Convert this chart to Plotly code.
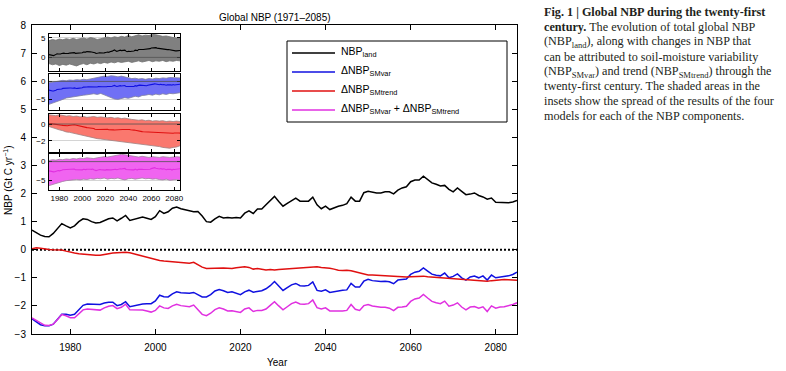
import plotly.graph_objects as go

# ---------------- data ----------------
years = list(range(1971, 2086))

nbp_land = [0.70, 0.60, 0.52, 0.47, 0.46, 0.58, 0.75, 0.93, 0.85, 0.78,
            0.85, 1.00, 1.10, 1.08, 1.00, 0.95, 0.97, 1.03, 1.10, 1.13,
            1.03, 1.12, 1.22, 1.04, 1.08, 1.13, 1.16, 1.12, 1.08, 1.18,
            1.39, 1.29, 1.35, 1.48, 1.52, 1.46, 1.42, 1.37, 1.35, 1.36,
            1.20, 1.00, 0.98, 1.10, 1.19, 1.13, 1.15, 1.13, 1.15, 1.13,
            1.30, 1.38, 1.29, 1.45, 1.45, 1.60, 1.75, 1.90, 1.72, 1.55,
            1.65, 1.75, 1.84, 1.73, 1.73, 1.73, 1.87, 1.60, 1.46, 1.55,
            1.43, 1.50, 1.55, 1.58, 1.64, 1.87, 1.73, 1.73, 2.03, 2.08,
            2.04, 2.02, 2.02, 2.06, 2.06, 1.99, 2.12, 2.20, 2.24, 2.42,
            2.48, 2.48, 2.62, 2.50, 2.38, 2.33, 2.27, 2.29, 2.15, 2.06,
            2.20, 2.08, 1.96, 1.98, 2.02, 1.93, 1.88, 1.80, 1.84, 1.69,
            1.68, 1.67, 1.67, 1.70, 1.75]

d_smvar = [-2.46, -2.58, -2.67, -2.71, -2.71, -2.65, -2.48, -2.30, -2.30, -2.33,
           -2.30, -2.15, -1.98, -1.93, -1.93, -1.93, -1.95, -1.90, -1.87, -1.87,
           -1.99, -1.95, -1.85, -2.03, -1.99, -1.96, -1.93, -1.92, -1.92, -1.82,
           -1.62, -1.67, -1.68, -1.57, -1.50, -1.53, -1.54, -1.55, -1.52, -1.60,
           -1.68, -1.68, -1.60, -1.47, -1.42, -1.46, -1.52, -1.50, -1.55, -1.60,
           -1.50, -1.44, -1.51, -1.49, -1.46, -1.39, -1.28, -1.13, -1.30, -1.45,
           -1.35, -1.25, -1.20, -1.28, -1.29, -1.27, -1.15, -1.45, -1.48, -1.43,
           -1.52, -1.49, -1.47, -1.44, -1.43, -1.20, -1.33, -1.33, -1.12, -1.05,
           -1.10, -1.12, -1.13, -1.12, -1.14, -1.21, -1.08, -1.06, -1.04, -0.88,
           -0.80, -0.77, -0.65, -0.76, -0.87, -0.91, -0.93, -0.83, -1.00, -0.95,
           -0.86, -1.00, -1.08, -0.97, -0.94, -1.00, -0.93, -1.08, -0.90, -1.00,
           -0.98, -0.97, -0.93, -0.88, -0.80]

d_smtrend = [0.03, 0.07, 0.05, 0.02, 0.01, 0.00, 0.00, -0.01, -0.05, -0.09,
             -0.12, -0.14, -0.16, -0.18, -0.19, -0.20, -0.20, -0.17, -0.14, -0.12,
             -0.11, -0.10, -0.09, -0.11, -0.15, -0.18, -0.22, -0.26, -0.30, -0.34,
             -0.38, -0.40, -0.41, -0.43, -0.44, -0.46, -0.47, -0.48, -0.45, -0.54,
             -0.62, -0.67, -0.66, -0.66, -0.65, -0.65, -0.66, -0.67, -0.64, -0.63,
             -0.61, -0.63, -0.69, -0.67, -0.70, -0.72, -0.70, -0.72, -0.70, -0.69,
             -0.68, -0.67, -0.66, -0.65, -0.65, -0.65, -0.64, -0.61, -0.63, -0.64,
             -0.66, -0.69, -0.73, -0.74, -0.73, -0.75, -0.79, -0.83, -0.87, -0.90,
             -0.90, -0.91, -0.92, -0.93, -0.94, -0.96, -0.97, -0.98, -0.97, -0.96,
             -0.95, -0.95, -0.94, -0.96, -0.97, -0.98, -0.99, -1.00, -1.01, -1.02,
             -1.03, -1.04, -1.06, -1.07, -1.08, -1.08, -1.10, -1.12, -1.10, -1.08,
             -1.06, -1.06, -1.07, -1.07, -1.09]

d_sum = [-2.43, -2.51, -2.62, -2.69, -2.70, -2.65, -2.48, -2.31, -2.35, -2.42,
         -2.42, -2.29, -2.14, -2.11, -2.12, -2.13, -2.15, -2.07, -2.01, -1.99,
         -2.10, -2.05, -1.94, -2.14, -2.14, -2.14, -2.15, -2.18, -2.22, -2.16,
         -2.00, -2.07, -2.09, -2.00, -1.94, -1.99, -2.01, -2.03, -1.97, -2.14,
         -2.30, -2.35, -2.26, -2.13, -2.07, -2.11, -2.18, -2.17, -2.19, -2.23,
         -2.11, -2.07, -2.20, -2.16, -2.16, -2.11, -1.98, -1.85, -2.00, -2.14,
         -2.03, -1.92, -1.86, -1.93, -1.94, -1.92, -1.79, -2.06, -2.11, -2.07,
         -2.18, -2.18, -2.20, -2.18, -2.16, -1.95, -2.12, -2.16, -1.99, -1.95,
         -2.00, -2.03, -2.05, -2.05, -2.08, -2.17, -2.05, -2.04, -2.01, -1.84,
         -1.75, -1.72, -1.59, -1.72, -1.84, -1.89, -1.92, -1.83, -2.01, -1.97,
         -1.89, -2.04, -2.14, -2.04, -2.02, -2.08, -2.03, -2.20, -2.00, -2.08,
         -2.04, -2.03, -2.00, -1.95, -1.89]

# inset spread (model range), every 3 years
band_years = list(range(1971, 2086, 3))
land_hi = [4.3, 4.6, 4.4, 4.7, 4.5, 4.8, 4.6, 4.9, 4.6, 4.8, 5.0, 4.7, 5.1, 4.9, 4.6, 4.8, 5.0, 5.2, 5.0, 5.3,
           5.1, 5.4, 5.2, 5.6, 5.3, 5.5, 5.8, 5.5, 5.7, 5.6, 5.9, 5.8, 5.6, 5.4, 5.5, 5.2, 5.1, 5.0, 5.1]
land_lo = [-1.6, -1.9, -1.7, -2.1, -1.8, -2.0, -1.7, -1.9, -2.2, -1.8, -1.6, -1.9, -1.5, -1.7, -1.4, -1.6, -1.3, -1.5, -1.2, -1.4,
           -1.1, -1.3, -1.2, -1.0, -1.3, -1.1, -0.9, -1.2, -1.0, -0.8, -1.1, -0.9, -1.0, -0.8, -1.1, -0.9, -1.0, -0.8, -0.9]
var_hi = [-0.4, -0.2, 0.0, 0.1, 0.3, 0.2, 0.4, 0.3, 0.5, 0.4, 0.6, 0.5, 0.7, 0.9, 1.1, 1.3, 1.5, 1.4, 1.6, 1.5,
          1.3, 1.5, 1.2, 1.0, 0.8, 0.9, 0.7, 0.8, 0.6, 0.8, 0.7, 0.9, 0.8, 1.0, 0.9, 1.1, 1.0, 1.1, 1.0]
var_lo = [-6.5, -6.2, -5.8, -5.5, -5.1, -4.7, -4.5, -4.4, -4.2, -4.0, -3.9, -3.8, -3.6, -3.5, -3.7, -3.4, -3.8, -4.2, -4.6, -5.0,
          -5.1, -4.9, -4.6, -4.8, -4.5, -4.2, -4.4, -4.0, -3.9, -3.7, -3.9, -3.6, -3.8, -3.5, -3.7, -3.4, -3.5, -3.3, -3.2]
trend_hi = [1.1, 1.05, 1.0, 1.1, 1.0, 0.95, 1.0, 0.9, 0.95, 0.85, 0.9, 0.8, 0.85, 0.9, 0.8, 0.85, 0.8, 0.75, 0.8, 0.7,
            0.75, 0.65, 0.7, 0.6, 0.55, 0.5, 0.45, 0.5, 0.4, 0.45, 0.35, 0.4, 0.35, 0.4, 0.3, 0.35, 0.3, 0.35, 0.3]
trend_lo = [-0.3, -0.45, -0.55, -0.7, -0.8, -0.95, -1.0, -1.1, -1.2, -1.3, -1.4, -1.5, -1.6, -1.7, -1.75, -1.8, -1.85, -1.9, -2.0, -2.05,
            -2.1, -2.15, -2.2, -2.25, -2.3, -2.3, -2.4, -2.45, -2.5, -2.55, -2.6, -2.65, -2.7, -2.8, -2.85, -2.9, -2.8, -2.75, -2.6]
sum_hi = [0.3, 0.5, 0.4, 0.6, 0.5, 0.7, 0.6, 0.8, 0.7, 0.9, 0.8, 1.0, 0.9, 0.8, 1.0, 1.1, 1.3, 1.2, 1.4, 1.6,
          1.7, 1.9, 1.8, 1.6, 1.5, 1.3, 1.2, 1.4, 1.2, 1.1, 1.3, 1.2, 1.1, 1.3, 1.2, 1.1, 1.2, 1.3, 1.2]
sum_lo = [-6.3, -6.0, -5.6, -5.3, -5.2, -5.0, -4.9, -4.8, -4.7, -4.8, -4.6, -4.7, -4.5, -4.6, -4.4, -4.5, -4.3, -4.6, -4.4, -4.5,
          -4.3, -4.6, -4.8, -4.5, -4.4, -4.6, -4.4, -4.3, -4.5, -4.4, -4.6, -4.5, -4.7, -4.8, -4.6, -4.9, -4.8, -4.7, -4.9]

main_xticks = [1980, 2000, 2020, 2040, 2060, 2080]
main_yticks = list(range(-3, 9))

series_names = ["NBP<sub>land</sub>", "ΔNBP<sub>SMvar</sub>", "ΔNBP<sub>SMtrend</sub>",
                "ΔNBP<sub>SMvar</sub> + ΔNBP<sub>SMtrend</sub>"]
line_colors = ["#000000", "#1010e0", "#e01010", "#e030e0"]
band_fill = ["rgba(128,128,128,1)", "rgba(112,112,245,1)", "rgba(250,120,110,1)", "rgba(240,100,240,1)"]
band_edge = ["#707070", "#8080a0", "#a08080", "#a080a0"]

caption_lines = [
    "<b>Fig. 1 | Global NBP during the twenty-first</b>",
    "<b>century.</b> The evolution of total global NBP",
    "(NBP<sub>land</sub>), along with changes in NBP that",
    "can be attributed to soil-moisture variability",
    "(NBP<sub>SMvar</sub>) and trend (NBP<sub>SMtrend</sub>) through the",
    "twenty-first century. The shaded areas in the",
    "insets show the spread of the results of the four",
    "models for each of the NBP components.",
]

# ---------------- geometry helpers (pixels -> paper) ----------------
W, H = 786, 371
L, R, T, B = 32, 517, 25, 334


def px(x):
    return (x - L) / (R - L)


def py(y):
    return (B - y) / (B - T)


SANS = "Liberation Sans, Arial, sans-serif"
SERIF = "Liberation Serif, Times New Roman, serif"

fig = go.Figure()

# zero dotted line
fig.add_trace(go.Scatter(x=[years[0], years[-1]], y=[0, 0], mode="lines",
                         line=dict(color="black", width=2, dash="2px,2px"),
                         showlegend=False, hoverinfo="skip"))

series = [nbp_land, d_smvar, d_smtrend, d_sum]
for s, c, n in zip(series, line_colors, series_names):
    fig.add_trace(go.Scatter(x=years, y=s, mode="lines", name=n,
                             line=dict(color=c, width=1.5), showlegend=False))

# ---------------- insets ----------------
inset_x = [49, 180]
inset_y = [(34, 71), (74, 110), (114, 152), (154, 190)]
inset_ranges = [[-3.5, 6.0], [-8.1, 2.1], [-3.35, 1.2], [-7.45, 2.0]]
inset_ticks = [[0, 5], [-5, 0], [-2, 0], [-5, 0]]
bands = [(land_hi, land_lo), (var_hi, var_lo), (trend_hi, trend_lo), (sum_hi, sum_lo)]

for i in range(4):
    k = i + 2
    xa, ya = f"x{k}", f"y{k}"
    hi, lo = bands[i]
    fig.add_trace(go.Scatter(x=band_years, y=hi, mode="lines", xaxis=xa, yaxis=ya,
                             line=dict(color=band_edge[i], width=0.8),
                             showlegend=False, hoverinfo="skip"))
    fig.add_trace(go.Scatter(x=band_years, y=lo, mode="lines", xaxis=xa, yaxis=ya,
                             fill="tonexty", fillcolor=band_fill[i],
                             line=dict(color=band_edge[i], width=0.8),
                             showlegend=False, hoverinfo="skip"))
    fig.add_trace(go.Scatter(x=years, y=series[i], mode="lines", xaxis=xa, yaxis=ya,
                             line=dict(color=line_colors[i], width=1.1),
                             showlegend=False, hoverinfo="skip"))
    fig.update_layout(**{
        f"xaxis{k}": dict(domain=[px(inset_x[0]), px(inset_x[1])], anchor=ya,
                          range=[1971, 2085], tickvals=main_xticks,
                          ticks="inside", ticklen=3, tickcolor="black",
                          showline=True, linecolor="black", linewidth=1, mirror="ticks",
                          showgrid=False, zeroline=False,
                          showticklabels=(i == 3),
                          tickfont=dict(family=SANS, size=8, color="black")),
        f"yaxis{k}": dict(domain=[py(inset_y[i][1]), py(inset_y[i][0])], anchor=xa,
                          range=inset_ranges[i], tickvals=inset_ticks[i],
                          ticks="inside", ticklen=3, tickcolor="black",
                          showline=True, linecolor="black", linewidth=1, mirror="ticks",
                          showgrid=True, gridcolor="#d4d4d4", gridwidth=1, zeroline=False,
                          tickfont=dict(family=SANS, size=8, color="black"),
                          ticklabelstandoff=1),
    })
    fig.add_shape(type="line", xref=f"x{k} domain", yref=ya, x0=0, x1=1, y0=0, y1=0,
                  line=dict(color="#505050", width=0.8), layer="above")

# ---------------- main axes ----------------
fig.update_layout(
    width=W, height=H,
    margin=dict(l=L, r=W - R, t=T, b=H - B, pad=0),
    paper_bgcolor="white", plot_bgcolor="white",
    showlegend=False,
    xaxis=dict(range=[1971, 2085], tickvals=main_xticks, ticks="inside", ticklen=5,
               tickcolor="black", showline=True, linecolor="black", linewidth=1,
               mirror="ticks", showgrid=False, zeroline=False,
               tickfont=dict(family=SANS, size=10, color="black"), ticklabelstandoff=4),
    yaxis=dict(range=[-3, 8], tickvals=main_yticks, ticks="inside", ticklen=5,
               tickcolor="black", showline=True, linecolor="black", linewidth=1,
               mirror="ticks", showgrid=False, zeroline=False,
               tickfont=dict(family=SANS, size=10, color="black"), ticklabelstandoff=3),
)

ann = []
ann.append(dict(text="Global NBP (1971–2085)", x=px(275), y=py(17), xref="paper", yref="paper",
                showarrow=False, xanchor="center", yanchor="middle",
                font=dict(family=SANS, size=10, color="black")))
ann.append(dict(text="Year", x=px(277), y=py(362), xref="paper", yref="paper",
                showarrow=False, xanchor="center", yanchor="middle",
                font=dict(family=SANS, size=10, color="black")))
ann.append(dict(text="NBP (Gt C yr<sup>−1</sup>)", x=px(8), y=py(181), xref="paper", yref="paper",
                showarrow=False, xanchor="center", yanchor="middle", textangle=-90,
                font=dict(family=SANS, size=10, color="black")))

# legend (manual box)
leg_box = (287, 41, 507, 122)
fig.add_shape(type="rect", xref="paper", yref="paper",
              x0=px(leg_box[0]), x1=px(leg_box[2]), y0=py(leg_box[3]), y1=py(leg_box[1]),
              line=dict(color="black", width=1), fillcolor="white", layer="above")
leg_rows = [53, 72, 91, 110]
for yy, c, n in zip(leg_rows, line_colors, series_names):
    fig.add_shape(type="line", xref="paper", yref="paper", x0=px(292), x1=px(335),
                  y0=py(yy), y1=py(yy), line=dict(color=c, width=1.5), layer="above")
    ann.append(dict(text=n, x=px(339), y=py(yy - 1), xref="paper", yref="paper",
                    showarrow=False, xanchor="left", yanchor="middle",
                    font=dict(family=SANS, size=10.5, color="black")))

# caption
cap_y = [11.7, 26.7, 42, 57, 71.7, 86, 101, 115.5]
for t, yy in zip(caption_lines, cap_y):
    ann.append(dict(text=t, x=px(542), y=py(yy), xref="paper", yref="paper",
                    showarrow=False, xanchor="left", yanchor="middle",
                    font=dict(family=SERIF, size=12.2, color="#231f20")))

fig.update_layout(annotations=ann)
fig.write_html("out.html",
               config={"displayModeBar": False, "staticPlot": True},
               post_script="document.body.style.margin='0px';document.body.style.padding='0px';")
